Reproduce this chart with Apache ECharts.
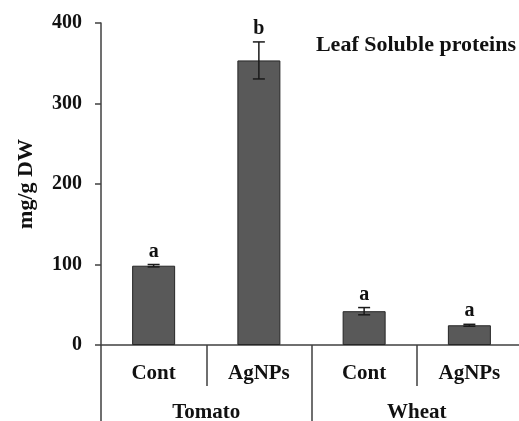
<!DOCTYPE html>
<html>
<head>
<meta charset="utf-8">
<script src="https://cdn.jsdelivr.net/npm/echarts@6/dist/echarts.min.js"></script>
<style>html,body{margin:0;padding:0;background:#fff}#c{width:519px;height:421px}</style>
</head>
<body>
<div id="c"></div>
<script>
var treatments = ['Cont', 'AgNPs', 'Cont', 'AgNPs'];
var groups = ['Tomato', 'Wheat'];
var values = [98.5, 353.5, 42, 24.5];
var errors = [1.5, 23, 4.5, 1.2];
var letters = ['a', 'b', 'a', 'a'];
var yTicks = [0, 100, 200, 300, 400];
var titleText = 'Leaf Soluble proteins';
var yName = 'mg/g DW';

var FONT = '"Liberation Serif", "Times New Roman", serif';
var chart = echarts.init(document.getElementById('c'));
var errData = values.map(function (v, i) { return [i, v - errors[i], v + errors[i], letters[i]]; });

chart.setOption({
  animation: false,
  backgroundColor: '#ffffff',
  title: {
    text: titleText, right: 3, top: 34, padding: 0,
    textStyle: { fontFamily: FONT, fontWeight: 'bold', fontSize: 22, color: '#111' }
  },
  grid: { left: 101, right: -3, top: 23, bottom: 76, containLabel: false, outerBoundsMode: 'none' },
  xAxis: [
    {
      type: 'category', data: treatments, position: 'bottom',
      axisLine: { show: true, lineStyle: { color: '#404040', width: 1.5 } },
      axisTick: { show: true, length: 41, lineStyle: { color: '#404040', width: 1.5 } },
      axisLabel: { margin: 18, fontFamily: FONT, fontWeight: 'bold', fontSize: 21, color: '#111' }
    },
    {
      type: 'category', data: groups, position: 'bottom', offset: 41,
      axisLine: { show: false },
      axisTick: { show: true, length: 40, lineStyle: { color: '#404040', width: 1.5 } },
      axisLabel: { margin: 16, fontFamily: FONT, fontWeight: 'bold', fontSize: 21, color: '#111' }
    }
  ],
  yAxis: {
    type: 'value', min: yTicks[0], max: yTicks[yTicks.length - 1], interval: 100,
    name: yName, nameLocation: 'middle', nameGap: 64, nameRotate: 90,
    nameTextStyle: { fontFamily: FONT, fontWeight: 'bold', fontSize: 22, color: '#111' },
    axisLine: { show: true, lineStyle: { color: '#404040', width: 1.5 } },
    axisTick: { show: true, length: 6, lineStyle: { color: '#404040', width: 1.5 } },
    splitLine: { show: false },
    axisLabel: { margin: 19, fontFamily: FONT, fontWeight: 'bold', fontSize: 20, color: '#111' }
  },
  series: [
    {
      type: 'bar', data: values, barWidth: 43, xAxisIndex: 0,
      itemStyle: { color: '#595959', borderColor: '#262626', borderWidth: 1 }
    },
    {
      type: 'custom', xAxisIndex: 0, data: errData, z: 5,
      renderItem: function (params, api) {
        var x = api.value(0);
        var lo = api.coord([x, api.value(1)]);
        var hi = api.coord([x, api.value(2)]);
        var cw = 6;
        var st = { stroke: '#1a1a1a', lineWidth: 1.5 };
        return {
          type: 'group',
          children: [
            { type: 'line', shape: { x1: hi[0], y1: hi[1], x2: lo[0], y2: lo[1] }, style: st },
            { type: 'line', shape: { x1: hi[0] - cw, y1: hi[1], x2: hi[0] + cw, y2: hi[1] }, style: st },
            { type: 'line', shape: { x1: lo[0] - cw, y1: lo[1], x2: lo[0] + cw, y2: lo[1] }, style: st },
            { type: 'text', style: { text: api.value(3), x: hi[0], y: hi[1] - 3, align: 'center', verticalAlign: 'bottom',
              font: 'bold 20px ' + FONT, fill: '#111' } }
          ]
        };
      }
    }
  ]
});
</script>
</body>
</html>
